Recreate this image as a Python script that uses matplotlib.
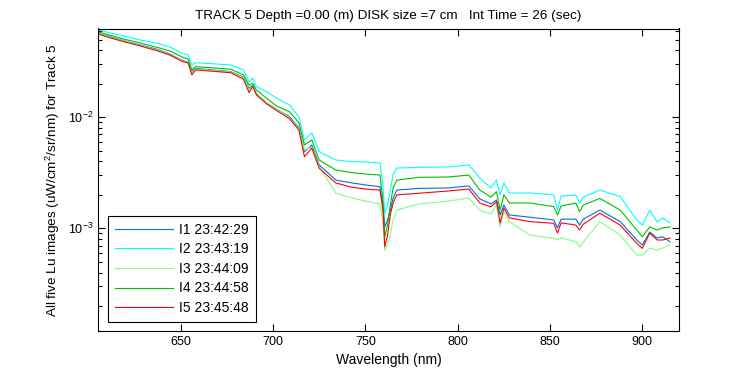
import numpy as np
import matplotlib
matplotlib.use("Agg")
import matplotlib.pyplot as plt

plt.rcParams['font.family'] = ['Liberation Sans', 'DejaVu Sans']
plt.rcParams['mathtext.fontset'] = 'custom'
plt.rcParams['mathtext.rm'] = 'Liberation Sans'

# wavelength grid (nm)
wavelength = [605, 612, 619, 628, 637, 644, 651, 654, 656, 658,
              677, 684, 687, 689, 691, 696.5, 702, 709, 714, 717,
              721, 725, 734, 743, 750, 757.9, 759.5, 760.5, 762, 763.5,
              765, 767, 779, 795, 806, 812, 818, 821, 823, 825,
              828, 839, 852, 854, 856, 864, 866, 868, 877, 888,
              897, 900, 904, 908, 911, 915]

# Lu in units of 1e-3 uW/cm^2/sr/nm
lu_i1 = [57.1, 52.9, 49.0, 44.8, 41.0, 37.2, 32.4, 31.5, 25.8, 27.6,
         25.8, 22.9, 18.2, 19.5, 16.2, 13.5, 11.8, 10.1, 8.01, 4.90,
         5.63, 3.72, 2.72, 2.56, 2.46, 2.37, 1.62, 1.03, 1.19, 1.46,
         1.87, 2.21, 2.29, 2.31, 2.41, 1.84, 1.66, 1.80, 1.32, 1.62,
         1.32, 1.26, 1.19, 1.01, 1.21, 1.21, 1.07, 1.21, 1.46, 1.15,
         0.785, 0.707, 0.926, 0.818, 0.840, 0.757]
lu_i2 = [61.2, 57.5, 54.0, 49.7, 46.4, 43.0, 37.7, 36.4, 29.6, 31.0,
         29.6, 26.7, 20.9, 22.5, 18.9, 17.0, 14.8, 12.9, 10.1, 6.25,
         7.22, 4.90, 4.12, 3.98, 3.96, 3.88, 2.46, 1.37, 1.62, 2.21,
         3.02, 3.49, 3.54, 3.57, 3.72, 2.84, 2.31, 2.72, 2.00, 2.56,
         2.08, 2.08, 2.00, 1.46, 1.95, 2.00, 1.69, 1.91, 2.21, 1.93,
         1.19, 1.07, 1.46, 1.14, 1.24, 1.12]
lu_i3 = [56.9, 52.4, 48.7, 44.3, 40.4, 36.8, 32.2, 31.2, 25.1, 27.2,
         25.6, 22.6, 17.6, 19.1, 16.0, 13.5, 11.9, 9.86, 7.85, 5.08,
         5.40, 3.59, 2.08, 1.87, 1.76, 1.66, 1.19, 0.637, 0.707, 0.870,
         1.19, 1.46, 1.66, 1.76, 1.87, 1.46, 1.35, 1.62, 1.03, 1.40,
         1.15, 0.870, 0.813, 0.785, 0.818, 0.757, 0.679, 0.753, 1.15, 0.870,
         0.575, 0.575, 0.665, 0.637, 0.665, 0.707]
lu_i4 = [59.0, 54.6, 50.7, 46.7, 42.7, 39.6, 34.7, 33.5, 26.7, 28.6,
         27.1, 24.1, 19.5, 20.2, 17.6, 14.8, 12.6, 11.2, 8.88, 5.63,
         6.25, 4.12, 3.35, 3.17, 3.08, 3.02, 1.80, 0.840, 1.07, 1.62,
         2.31, 2.72, 2.88, 2.90, 3.02, 2.21, 1.91, 2.14, 1.46, 2.00,
         1.69, 1.69, 1.57, 1.32, 1.59, 1.69, 1.41, 1.62, 1.86, 1.46,
         0.965, 0.840, 1.03, 0.965, 1.01, 1.03]
lu_i5 = [56.3, 51.8, 48.0, 43.9, 39.8, 36.4, 31.7, 30.8, 24.1, 26.7,
         25.2, 22.0, 16.7, 18.9, 15.9, 13.2, 11.5, 9.65, 7.68, 4.42,
         5.29, 3.47, 2.56, 2.34, 2.26, 2.21, 1.46, 0.683, 0.870, 1.32,
         1.69, 2.00, 2.07, 2.17, 2.26, 1.69, 1.56, 1.74, 1.12, 1.52,
         1.24, 1.15, 1.11, 0.907, 1.12, 1.07, 0.965, 1.09, 1.37, 1.07,
         0.733, 0.661, 0.907, 0.785, 0.785, 0.818]

labels = ["I1 23:42:29", "I2 23:43:19", "I3 23:44:09", "I4 23:44:58", "I5 23:45:48"]
colors = ["#0070E0", "#00FFFF", "#80FF80", "#00C000", "#FF0000"]

fig = plt.figure(figsize=(7.5, 3.75), dpi=100)
ax = fig.add_axes([0.1307, 0.1173, 0.775, 0.8067])

for series, lab, col in zip([lu_i1, lu_i2, lu_i3, lu_i4, lu_i5], labels, colors):
    ax.plot(wavelength, np.array(series) * 1e-3, color=col, lw=0.8, label=lab)

ax.set_yscale('log')
ax.set_xlim(605.2, 920)
ax.set_ylim(1.19e-4, 6.3e-2)
ax.set_xticks([650, 700, 750, 800, 850, 900])
ax.set_yticks([1e-3, 1e-2])
ax.tick_params(which='both', direction='in', top=True, right=True, labelsize=9)
ax.tick_params(which='major', length=5, width=0.8)
ax.tick_params(which='minor', length=3, width=0.8)
for s in ax.spines.values():
    s.set_linewidth(0.8)

ax.set_title("TRACK 5 Depth =0.00 (m) DISK size =7 cm   Int Time = 26 (sec)", fontsize=9.7, pad=7)
ax.set_xlabel("Wavelength (nm)", fontsize=10)
ax.set_ylabel("All five Lu images (uW/cm$^2$/sr/nm) for Track 5", fontsize=9.7)

leg = ax.legend(loc='lower left', bbox_to_anchor=(0.017, 0.03), fontsize=10,
                fancybox=False, framealpha=1, edgecolor='black',
                handlelength=4.2, handletextpad=0.45, labelspacing=0.4,
                borderpad=0.5, borderaxespad=0)
leg.get_frame().set_linewidth(0.8)

fig.savefig("out.png", dpi=100)
